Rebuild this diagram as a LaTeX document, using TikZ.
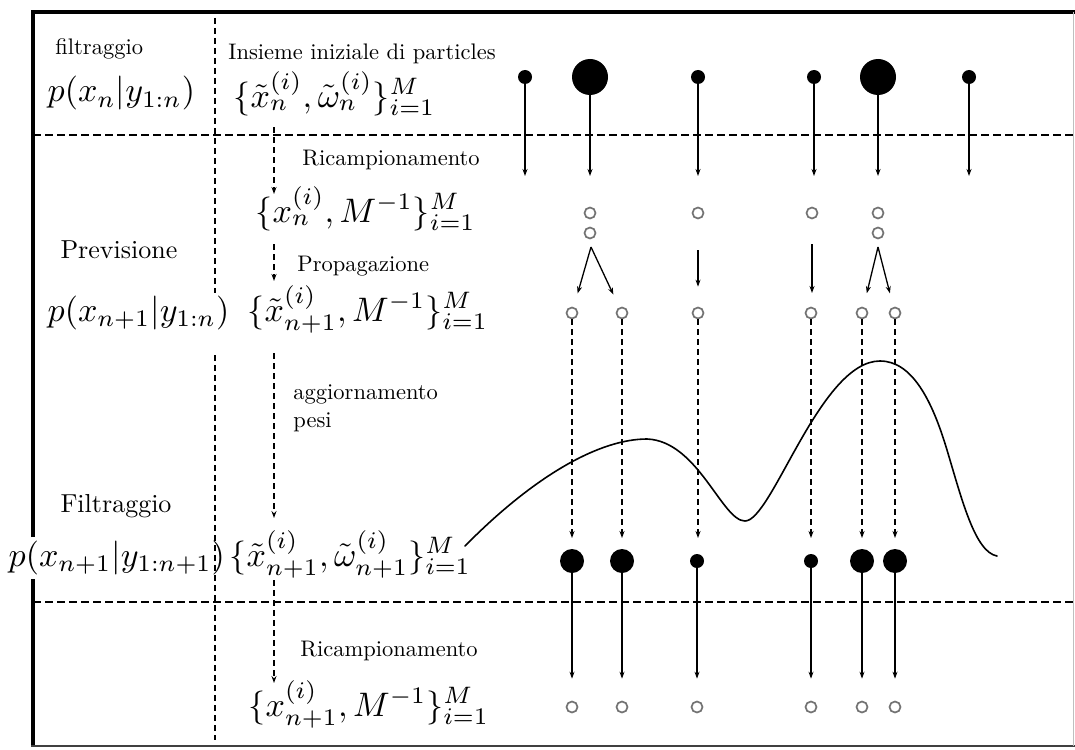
\documentclass[tikz,border=0pt]{standalone}
\usetikzlibrary{arrows.meta}
\begin{document}
\begin{tikzpicture}[x=1pt,y=-1pt,
  txt/.style={inner sep=0pt, anchor=base west, scale=2.25},
  bigtxt/.style={inner sep=0pt, anchor=base west, scale=2.6},
  mth/.style={inner sep=0pt, anchor=base west, scale=3.4},
  hdash/.style={line width=1.4pt, dash pattern=on 8pt off 4pt},
  vdash/.style={line width=1.4pt, dash pattern=on 6pt off 4pt},
  arr/.style={line width=1.3pt, -{Stealth[length=7pt,width=5pt]}},
  darr/.style={arr, dash pattern=on 6pt off 4pt},
  sdot/.style={circle, fill=black, inner sep=0pt, minimum size=14pt},
  bdot/.style={circle, fill=black, inner sep=0pt, minimum size=36pt},
  mdot/.style={circle, fill=black, inner sep=0pt, minimum size=24pt},
  odot/.style={circle, draw=black!55, line width=1.7pt, inner sep=0pt, minimum size=11pt},
]
\fill[white] (0,0) rectangle (1075,749);
\useasboundingbox (0,0) rectangle (1075,749);

% frame
\draw[line width=4pt] (33,537) -- (33,12) -- (1075,12);
\draw[line width=4pt] (33,579) -- (33,746);
\draw[line width=2.5pt, black!75] (31,746) -- (1075,746);
\draw[line width=1pt, black!25] (1073,12) -- (1073,746);

% dashed grid
\draw[hdash] (33,135) -- (1075,135);
\draw[hdash] (33,602) -- (1075,602);
\draw[vdash] (215,18) -- (215,293);
\draw[vdash] (215,355) -- (215,740);

% left texts
\node[txt] (t1) at (55,55) {filtraggio};
\node[mth] (f1) at (47,102) {$p(x_n|y_{1:n})$};
\node[txt] (t2) at (228,60) {Insieme iniziale di particles};
\node[mth] (s1) at (233,107) {$\{\tilde{x}_n^{(i)},\tilde{\omega}_n^{(i)}\}_{i=1}^M$};
\node[txt] (t3) at (302,165) {Ricampionamento};
\node[mth] (s2) at (255,222) {$\{x_n^{(i)},M^{-1}\}_{i=1}^M$};
\node[bigtxt] (t4) at (60,258) {Previsione};
\node[txt] (t5) at (297,271) {Propagazione};
\node[mth] (f2) at (47,321) {$p(x_{n+1}|y_{1:n})$};
\node[mth] (s3) at (247,321) {$\{\tilde{x}_{n+1}^{(i)},M^{-1}\}_{i=1}^M$};
\node[txt] (t6) at (293,399) {aggiornamento};
\node[txt] (t7) at (293,427) {pesi};
\node[bigtxt] (t8) at (60,512) {Filtraggio};
\node[mth] (f3) at (8,566) {$p(x_{n+1}|y_{1:n+1})$};
\node[mth] (s4) at (229,566) {$\{\tilde{x}_{n+1}^{(i)},\tilde{\omega}_{n+1}^{(i)}\}_{i=1}^M$};
\node[txt] (t9) at (300,656) {Ricampionamento};
\node[mth] (s5) at (248,716) {$\{x_{n+1}^{(i)},M^{-1}\}_{i=1}^M$};

% left step arrows
\coordinate (l1) at (274,127); \coordinate (l2) at (274,194);
\coordinate (l3) at (274,244); \coordinate (l4) at (274,281);
\coordinate (l5) at (274,353); \coordinate (l6) at (274,518);
\coordinate (l7) at (274,580); \coordinate (l8) at (274,683);
\draw[darr] (l1) -- (l2);
\draw[darr] (l3) -- (l4);
\draw[darr] (l5) -- (l6);
\draw[darr] (l7) -- (l8);

% row 1: initial weighted particles
\node[sdot] (a1) at (525,77) {};
\node[bdot] (a2) at (590,77) {};
\node[sdot] (a3) at (698,77) {};
\node[sdot] (a4) at (814,77) {};
\node[bdot] (a5) at (878,77) {};
\node[sdot] (a6) at (969,77) {};
\foreach \i/\x in {1/525,2/590,3/698,4/814,5/878,6/969}{
  \coordinate (e\i) at (\x,176);
  \draw[arr] (a\i) -- (e\i);
}

% row 2: resampled
\node[odot] (b2) at (590,213) {};
\node[odot] (b2b) at (590,233) {};
\node[odot] (b3) at (698,213) {};
\node[odot] (b4) at (812,213) {};
\node[odot] (b5) at (878,213) {};
\node[odot] (b5b) at (878,233) {};
\coordinate (p2) at (591,247);
\coordinate (p5) at (878,247);

% row 3: propagated
\node[odot] (c1) at (572,313) {};
\node[odot] (c2) at (622,313) {};
\node[odot] (c3) at (698,313) {};
\node[odot] (c4) at (811,313) {};
\node[odot] (c5) at (862,313) {};
\node[odot] (c6) at (895,313) {};

\draw[arr, shorten >=14pt] (p2) -- (c1);
\draw[arr, shorten >=14pt] (p2) -- (c2);
\draw[arr, shorten <=31pt, shorten >=20pt] (b3) -- (c3);
\draw[arr, shorten <=31pt, shorten >=20pt] (b4.center) -- (b4.center |- c4.center);
\draw[arr, shorten >=14pt] (p5) -- (c5);
\draw[arr, shorten >=14pt] (p5) -- (c6);

% likelihood curve
\draw[line width=1.6pt, line cap=round] (465,546)
  .. controls (535,475) and (600,439) .. (647,439)
  .. controls (698,441) and (722,521) .. (745,521)
  .. controls (772,521) and (820,361) .. (880,361)
  .. controls (912,361) and (932,400) .. (947,450)
  .. controls (962,500) and (975,552) .. (997,556);

% row 4: reweighted
\node[mdot] (d1) at (572,561) {};
\node[mdot] (d2) at (622,561) {};
\node[sdot] (d3) at (697,561) {};
\node[sdot] (d4) at (811,561) {};
\node[mdot] (d5) at (862,561) {};
\node[mdot] (d6) at (895,561) {};
\foreach \i/\x in {1/572,2/622,3/698,4/811,5/862,6/895}{
  \coordinate (f\i) at (\x,538);
  \draw[darr] (c\i) -- (f\i);
}

% row 5: resampled again
\node[odot] (g1) at (572,707) {};
\node[odot] (g2) at (622,707) {};
\node[odot] (g3) at (697,707) {};
\node[odot] (g4) at (811,707) {};
\node[odot] (g5) at (862,707) {};
\node[odot] (g6) at (895,707) {};
\foreach \i in {1,...,6}{
  \draw[arr, shorten >=22pt] (d\i) -- (g\i);
}
\end{tikzpicture}
\end{document}
